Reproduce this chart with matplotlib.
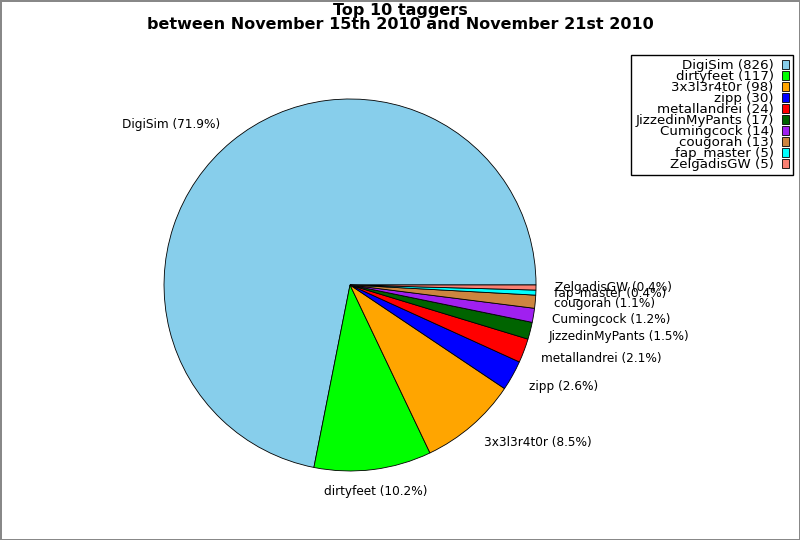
import matplotlib
matplotlib.use("Agg")
import matplotlib.pyplot as plt

# Top 10 taggers data
names = ["DigiSim", "dirtyfeet", "3x3l3r4t0r", "zipp", "metallandrei",
         "JizzedinMyPants", "Cumingcock", "cougorah", "fap_master", "ZelgadisGW"]
counts = [826, 117, 98, 30, 24, 17, 14, 13, 5, 5]
colors = ["skyblue", "lime", "orange", "blue", "red",
          "darkgreen", "#a020f0", "peru", "cyan", "salmon"]

total = float(sum(counts))
slice_labels = ["%s (%.1f%%)" % (n, 100.0 * c / total) for n, c in zip(names, counts)]
legend_labels = ["%s (%d)" % (n, c) for n, c in zip(names, counts)]

fig = plt.figure(figsize=(8, 5.4), dpi=100)
fig.patch.set_edgecolor("#888888")
fig.patch.set_linewidth(2)

ax = fig.add_axes([0.1469, 0.0417, 0.58125, 0.8611])
wedges, texts = ax.pie(counts, labels=slice_labels, colors=colors, startangle=0,
                       labeldistance=1.1, textprops={"fontsize": 8.7},
                       wedgeprops={"edgecolor": "black", "linewidth": 0.6})
# nudge labels a little further out vertically; bottom labels are centred
for t in texts:
    x, y = t.get_position()
    t.set_position((x, y * 1.018))
    if abs(x) < 0.2:
        t.set_ha("center")

fig.suptitle("Top 10 taggers\nbetween November 15th 2010 and November 21st 2010",
             fontsize=11.5, fontweight="bold", y=0.994, linespacing=0.9)

leg = fig.legend(wedges, legend_labels, loc="upper right",
                 bbox_to_anchor=(0.991, 0.898), borderaxespad=0,
                 markerfirst=False, fontsize=9.6, handlelength=0.53,
                 handleheight=0.6, handletextpad=0.6, labelspacing=-0.15,
                 borderpad=0.3, fancybox=False, edgecolor="black", framealpha=1)
leg.get_frame().set_linewidth(1)
for t in leg.get_texts():
    t.set_ha("right")

fig.savefig("out.png", dpi=100, edgecolor=fig.get_edgecolor())
